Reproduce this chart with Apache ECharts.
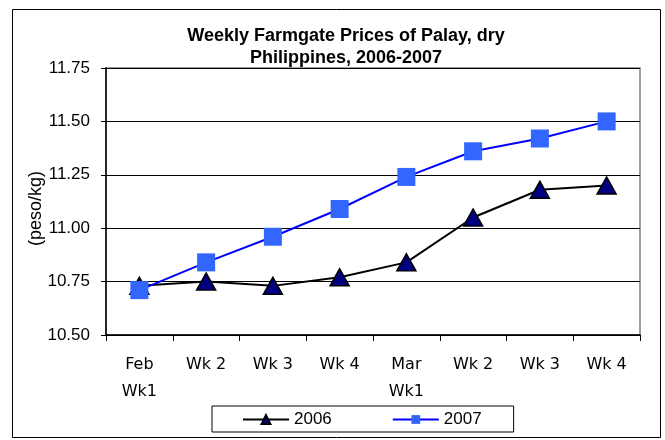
<!DOCTYPE html>
<html>
<head>
<meta charset="utf-8">
<script src="https://cdn.jsdelivr.net/npm/echarts@6/dist/echarts.min.js"></script>
<style>html,body{margin:0;padding:0;background:#fff}#c{width:665px;height:440px}</style>
</head>
<body>
<div id="c"></div>
<script>
const categories = ['Feb\nWk1', 'Wk 2', 'Wk 3', 'Wk 4', 'Mar\nWk1', 'Wk 2', 'Wk 3', 'Wk 4'];
const values2006 = [10.73, 10.75, 10.73, 10.77, 10.84, 11.05, 11.18, 11.20];
const values2007 = [10.71, 10.84, 10.96, 11.09, 11.24, 11.36, 11.42, 11.50];
const yTicks = [10.50, 10.75, 11.00, 11.25, 11.50, 11.75];

const chart = echarts.init(document.getElementById('c'), null, {renderer: 'canvas'});
chart.setOption({
  animation: false,
  backgroundColor: '#fff',
  title: {
    text: 'Weekly Farmgate Prices of Palay, dry\nPhilippines, 2006-2007',
    left: 341, top: 20, textAlign: 'center',
    textStyle: {fontFamily: 'Liberation Sans', fontWeight: 'bold', fontSize: 18, lineHeight: 22, color: '#000'}
  },
  graphic: [
    {type: 'rect', shape: {x: 12.5, y: 9.5, width: 648, height: 428}, style: {fill: 'none', stroke: '#000', lineWidth: 1}, z: -1},
    {type: 'rect', shape: {x: 106, y: 68, width: 534, height: 267}, style: {fill: 'none', stroke: '#808080', lineWidth: 1.5}, z: 0}
  ],
  grid: {left: 106, right: 25, top: 68, bottom: 105, containLabel: false},
  legend: {
    data: ['2006', '2007'],
    left: 212, top: 406,
    padding: [5, 32, 4, 30],
    itemGap: 60, itemWidth: 46, itemHeight: 11,
    borderColor: '#000', borderWidth: 1,
    textStyle: {fontFamily: 'Liberation Sans', fontSize: 17, color: '#000'}
  },
  xAxis: {
    type: 'category', data: categories, boundaryGap: true,
    axisLine: {lineStyle: {color: '#000', width: 1.5}},
    axisTick: {show: true, length: 6, lineStyle: {color: '#000'}},
    axisLabel: {fontFamily: 'DejaVu Sans', fontSize: 16, color: '#000', margin: 16, lineHeight: 27, interval: 0}
  },
  yAxis: {
    type: 'value', min: 10.50, max: 11.75, interval: 0.25,
    name: '(peso/kg)', nameLocation: 'middle', nameGap: 61, nameRotate: 90,
    nameMoveOverlap: false,
    nameTextStyle: {fontFamily: 'Liberation Sans', fontSize: 18, color: '#000', padding: [0, 14, 0, 0]},
    axisLine: {show: true, lineStyle: {color: '#000', width: 1.5}},
    axisTick: {show: true, length: 5, lineStyle: {color: '#000'}},
    axisLabel: {fontFamily: 'Liberation Sans', fontSize: 17, color: '#000', margin: 16,
      formatter: v => v.toFixed(2)},
    splitLine: {show: true, lineStyle: {color: '#000', width: 1}}
  },
  series: [
    {
      name: '2006', type: 'line', data: values2006,
      symbol: 'triangle', symbolSize: [19, 17],
      itemStyle: {color: '#000080', borderColor: '#000', borderWidth: 1.5},
      lineStyle: {color: '#000', width: 2}, z: 2
    },
    {
      name: '2007', type: 'line', data: values2007,
      symbol: 'rect', symbolSize: 18,
      itemStyle: {color: '#3366FF', borderWidth: 0},
      lineStyle: {color: '#0000FF', width: 2}, z: 3
    }
  ]
});
</script>
</body>
</html>
